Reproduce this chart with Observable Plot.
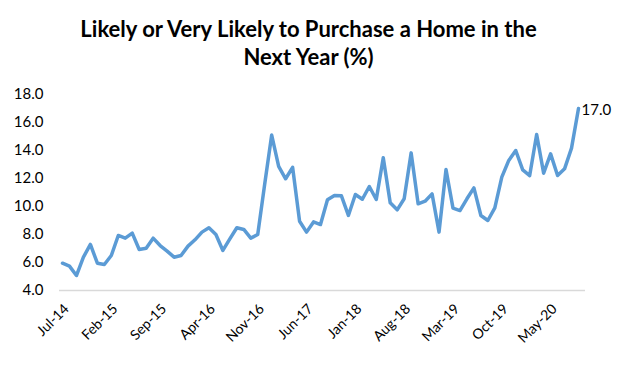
<!DOCTYPE html>
<html>
<head>
<meta charset="utf-8">
<script src="https://cdn.jsdelivr.net/npm/d3@7"></script>
<script src="https://cdn.jsdelivr.net/npm/@observablehq/plot@0.6"></script>
<style>
  html, body { margin: 0; padding: 0; background: #fff; }
  #title { width: 617px; height: 76px; box-sizing: border-box; padding-top: 15px;
    text-align: center; font-family: Lato, "Open Sans", sans-serif; font-weight: bold;
    font-size: 22px; line-height: 28px; color: #000; }
</style>
</head>
<body>
<div id="title">Likely or Very Likely to Purchase a Home in the<br>Next Year (%)</div>
<div id="chart"></div>
<script>
const startMonth = "Jul-14";
const tickLabels = ["Jul-14","Feb-15","Sep-15","Apr-16","Nov-16","Jun-17","Jan-18","Aug-18","Mar-19","Oct-19","May-20"];
const tickIndex = [0,7,14,21,28,35,42,49,56,63,70];
const values = [
  5.95, 5.74, 5.07, 6.38, 7.29, 5.95, 5.86, 6.5, 7.93, 7.74,
  8.1, 6.93, 7.02, 7.74, 7.21, 6.81, 6.38, 6.5, 7.17, 7.62,
  8.17, 8.48, 8.0, 6.86, 7.69, 8.48, 8.36, 7.74, 8.0, 11.6,
  15.1, 12.86, 11.98, 12.8, 8.95, 8.17, 8.9, 8.71, 10.48, 10.79,
  10.76, 9.36, 10.86, 10.52, 11.43, 10.5, 13.48, 10.26, 9.76, 10.55,
  13.83, 10.19, 10.38, 10.9, 8.17, 12.64, 9.88, 9.71, 10.55, 11.33,
  9.36, 9.0, 9.9, 12.1, 13.29, 14.0, 12.62, 12.21, 15.14, 12.38,
  13.76, 12.21, 12.69, 14.17, 17.0
];
const yTicks = [4,6,8,10,12,14,16,18];

const data = values.map((v, i) => ({i, v}));
const last = data[data.length - 1];

const chart = Plot.plot({
  width: 617,
  height: 292,
  marginLeft: 62,
  marginRight: 39,
  marginTop: 18,
  marginBottom: 78,
  style: {fontFamily: "Lato, 'Open Sans', sans-serif", fontSize: "14px", color: "#000", background: "#fff"},
  x: {domain: [0, values.length - 1], axis: null},
  y: {domain: [4, 18], axis: null},
  marks: [
    Plot.ruleY([4], {stroke: "#d9d9d9", strokeWidth: 1.5, insetLeft: -3, insetRight: -7}),
    Plot.axisY({ticks: yTicks, tickSize: 0, tickPadding: 19, tickFormat: d => d.toFixed(1), fontSize: 15, label: null}),
    Plot.axisX({ticks: tickIndex, tickSize: 0, tickPadding: 16, tickRotate: -45, fontSize: 14, dx: 4,
      tickFormat: d => tickLabels[tickIndex.indexOf(d)], label: null}),
    Plot.line(data, {x: "i", y: "v", stroke: "#5B9BD5", strokeWidth: 3.5, strokeLinejoin: "round", strokeLinecap: "round"}),
    Plot.text([last], {x: "i", y: "v", text: d => d.v.toFixed(1), textAnchor: "start", dx: 3, dy: 2, fontSize: 15, fill: "#000"})
  ]
});
document.getElementById("chart").appendChild(chart);
</script>
</body>
</html>
